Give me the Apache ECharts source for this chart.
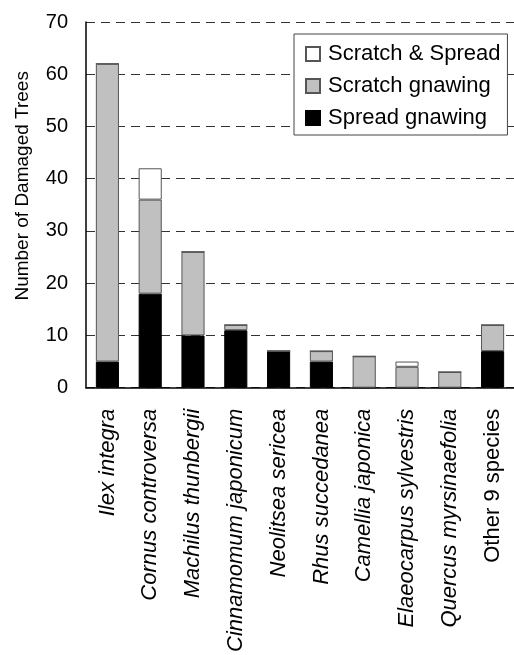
<!DOCTYPE html>
<html><head><meta charset="utf-8">
<script src="https://cdn.jsdelivr.net/npm/echarts@6/dist/echarts.min.js"></script>
<style>html,body{margin:0;padding:0;background:#fff}#c{width:514px;height:655px}</style>
</head><body><div id="c"></div>
<script>
const categories = ['Ilex integra','Cornus controversa','Machilus thunbergii','Cinnamomum japonicum','Neolitsea sericea','Rhus succedanea','Camellia japonica','Elaeocarpus sylvestris','Quercus myrsinaefolia','Other 9 species'];
const italicFlags = [true,true,true,true,true,true,true,true,true,false];
const spreadGnawing = [5,18,10,11,7,5,0,0,0,7];
const scratchGnawing = [57,18,16,1,0,2,6,4,3,5];
const scratchSpread = [0,6,0,0,0,0,0,1,0,0];
const yTicks = {min:0, max:70, interval:10};

const font = 'Liberation Sans, Arial, sans-serif';
const chart = echarts.init(document.getElementById('c'), null, {renderer:'canvas'});
function mk(name, data, color, border){
  return {name, type:'bar', stack:'s', data, barWidth:'54%',
    itemStyle:{color, borderColor:border, borderWidth:1},
    emphasis:{disabled:true}};
}
chart.setOption({
  animation:false,
  grid:{left:86, top:22, right:0, bottom:266, containLabel:false},
  legend:{
    orient:'vertical', left:294, top:34,
    data:['Scratch & Spread','Scratch gnawing','Spread gnawing'],
    icon:'rect', itemWidth:14, itemHeight:14, itemGap:10,
    padding:[9,7,6,11],
    backgroundColor:'#fff', borderColor:'#444', borderWidth:1,
    textStyle:{fontFamily:font, fontSize:22, color:'#000', padding:[0,0,0,3]}
  },
  xAxis:{
    type:'category',
    data: categories.map((c,i)=>({value:c, textStyle:{fontStyle: italicFlags[i]?'italic':'normal'}})),
    axisLine:{lineStyle:{color:'#000', width:1.5}},
    axisTick:{inside:true, length:8, lineStyle:{color:'#555'}},
    axisLabel:{rotate:90, interval:0, margin:21, fontFamily:font, fontSize:22, color:'#000'}
  },
  yAxis:{
    type:'value', min:yTicks.min, max:yTicks.max, interval:yTicks.interval,
    name:'Number of Damaged Trees', nameLocation:'middle', nameGap:54,
    nameTextStyle:{fontFamily:font, fontSize:19, color:'#000', padding:[0,0,0,38]},
    axisLine:{show:true, lineStyle:{color:'#000', width:1.5}},
    axisTick:{show:false},
    axisLabel:{fontFamily:font, fontSize:20, color:'#000', margin:18},
    splitLine:{show:true, lineStyle:{color:'#333', type:[9,6], width:1}}
  },
  series:[
    mk('Spread gnawing', spreadGnawing, '#000', '#000'),
    mk('Scratch gnawing', scratchGnawing, '#c0c0c0', '#555'),
    mk('Scratch & Spread', scratchSpread, '#fff', '#555')
  ]
});
</script></body></html>
